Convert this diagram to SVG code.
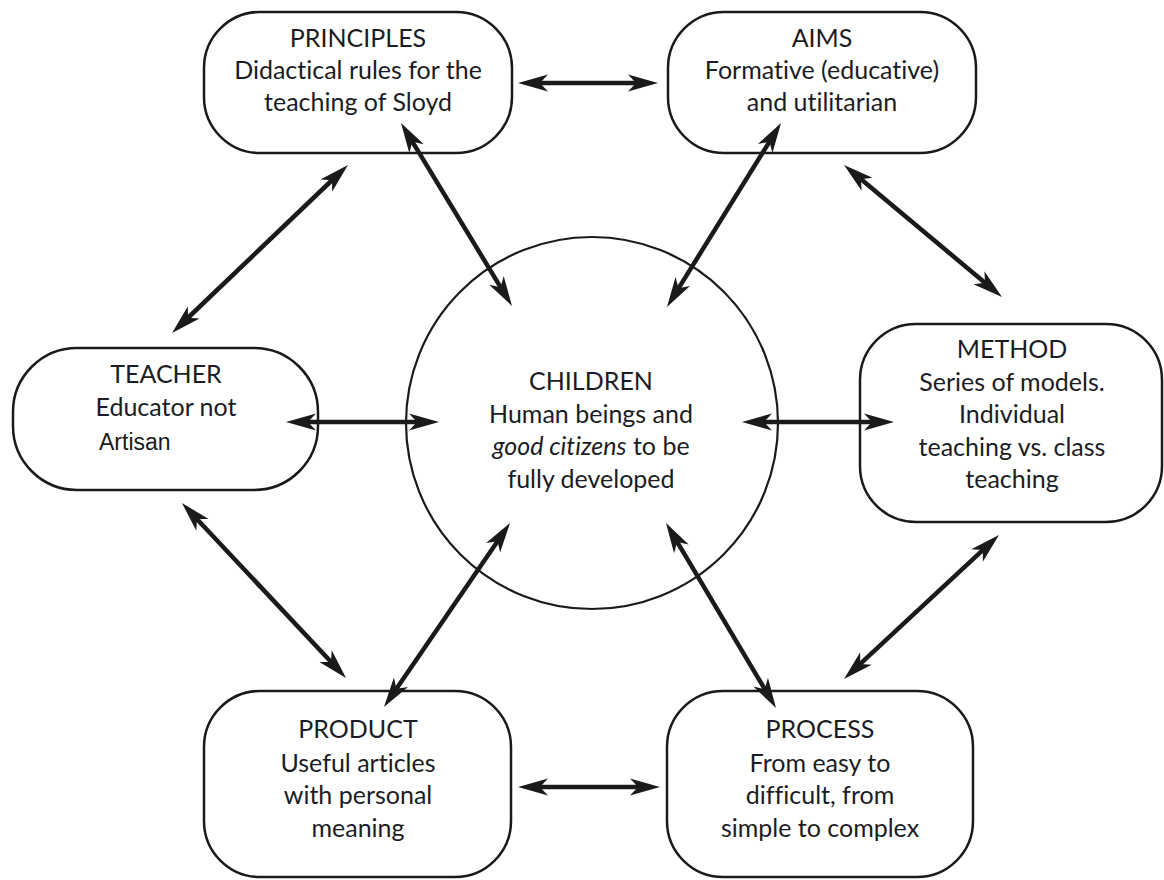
<svg xmlns="http://www.w3.org/2000/svg" width="1164" height="880" viewBox="0 0 1164 880">
  <style>
    .node { fill: #ffffff; stroke: #1a1a1a; stroke-width: 2.5; }
    .hub { fill: none; stroke: #1a1a1a; stroke-width: 2.2; }
    .lbl { font-family: Lato, "Liberation Sans", sans-serif; font-size: 25px; fill: #1c1c24; text-anchor: middle; font-variant-ligatures: none; font-feature-settings: "liga" 0, "dlig" 0; }
    .plain { font-family: "Liberation Sans", Arial, sans-serif; font-size: 23px; fill: #1a1a1a; }
    .link { stroke: #1a1a1a; stroke-width: 4.5; fill: none; marker-start: url(#head); marker-end: url(#head); }
  </style>
  <defs>
    <!-- barbed arrowhead; the line stops 16px short of the tip -->
    <marker id="head" markerUnits="userSpaceOnUse" viewBox="-32 -10 34 20" markerWidth="34" markerHeight="20" refX="-16" refY="0" orient="auto-start-reverse">
      <path d="M0,0 L-30,-8.5 L-22,0 L-30,8.5 Z" fill="#1a1a1a"/>
    </marker>
  </defs>
  <rect width="1164" height="880" fill="#ffffff"/>

  <g id="children">
    <circle class="hub" cx="592" cy="423" r="186"/>
    <text class="lbl" x="591" y="390">CHILDREN</text>
    <text class="lbl" x="591" y="423">Human beings and</text>
    <text class="lbl" x="591" y="455"><tspan font-style="italic">good citizens</tspan> to be</text>
    <text class="lbl" x="591" y="488">fully developed</text>
  </g>

  <g id="principles">
    <rect class="node" x="204" y="12" width="308" height="141" rx="56"/>
    <text class="lbl" x="358" y="47">PRINCIPLES</text>
    <text class="lbl" x="358" y="79">Didactical rules for the</text>
    <text class="lbl" x="358" y="111">teaching of Sloyd</text>
  </g>

  <g id="aims">
    <rect class="node" x="668" y="12" width="308" height="141" rx="56"/>
    <text class="lbl" x="822" y="47">AIMS</text>
    <text class="lbl" x="822" y="79">Formative (educative)</text>
    <text class="lbl" x="822" y="111">and utilitarian</text>
  </g>

  <g id="teacher">
    <rect class="node" x="13" y="348" width="305" height="142" rx="64"/>
    <text class="lbl" x="166" y="383">TEACHER</text>
    <text class="lbl" x="166" y="416">Educator not</text>
    <text class="plain" x="99" y="450">Artisan</text>
  </g>

  <g id="method">
    <rect class="node" x="860" y="324" width="302" height="198" rx="56"/>
    <text class="lbl" x="1012" y="358">METHOD</text>
    <text class="lbl" x="1012" y="391">Series of models.</text>
    <text class="lbl" x="1012" y="423">Individual</text>
    <text class="lbl" x="1012" y="456">teaching vs. class</text>
    <text class="lbl" x="1012" y="488">teaching</text>
  </g>

  <g id="product">
    <rect class="node" x="204" y="691" width="307" height="186" rx="56"/>
    <text class="lbl" x="358" y="738">PRODUCT</text>
    <text class="lbl" x="358" y="772">Useful articles</text>
    <text class="lbl" x="358" y="804">with personal</text>
    <text class="lbl" x="358" y="837">meaning</text>
  </g>

  <g id="process">
    <rect class="node" x="667" y="691" width="306" height="186" rx="56"/>
    <text class="lbl" x="820" y="738">PROCESS</text>
    <text class="lbl" x="820" y="772">From easy to</text>
    <text class="lbl" x="820" y="804">difficult, from</text>
    <text class="lbl" x="820" y="837">simple to complex</text>
  </g>

  <!-- double-headed links, drawn over the node outlines -->
  <g id="connectors">
    <line class="link" x1="534" y1="83" x2="642" y2="83"/>
    <line class="link" x1="409.3" y1="136.7" x2="503.7" y2="292.3"/>
    <line class="link" x1="772.6" y1="136.6" x2="675.4" y2="293.4"/>
    <line class="link" x1="856.3" y1="175.3" x2="989.7" y2="286.7"/>
    <line class="link" x1="336.4" y1="176" x2="183.6" y2="322"/>
    <line class="link" x1="302" y1="422" x2="423" y2="422"/>
    <line class="link" x1="758" y1="422" x2="878" y2="422"/>
    <line class="link" x1="192.9" y1="514.7" x2="335.1" y2="666.3"/>
    <line class="link" x1="501" y1="536.2" x2="393" y2="693.8"/>
    <line class="link" x1="674.2" y1="536.8" x2="767.8" y2="694.2"/>
    <line class="link" x1="987.3" y1="545.9" x2="855.7" y2="668.1"/>
    <line class="link" x1="534" y1="787" x2="644" y2="787"/>
  </g>
</svg>
